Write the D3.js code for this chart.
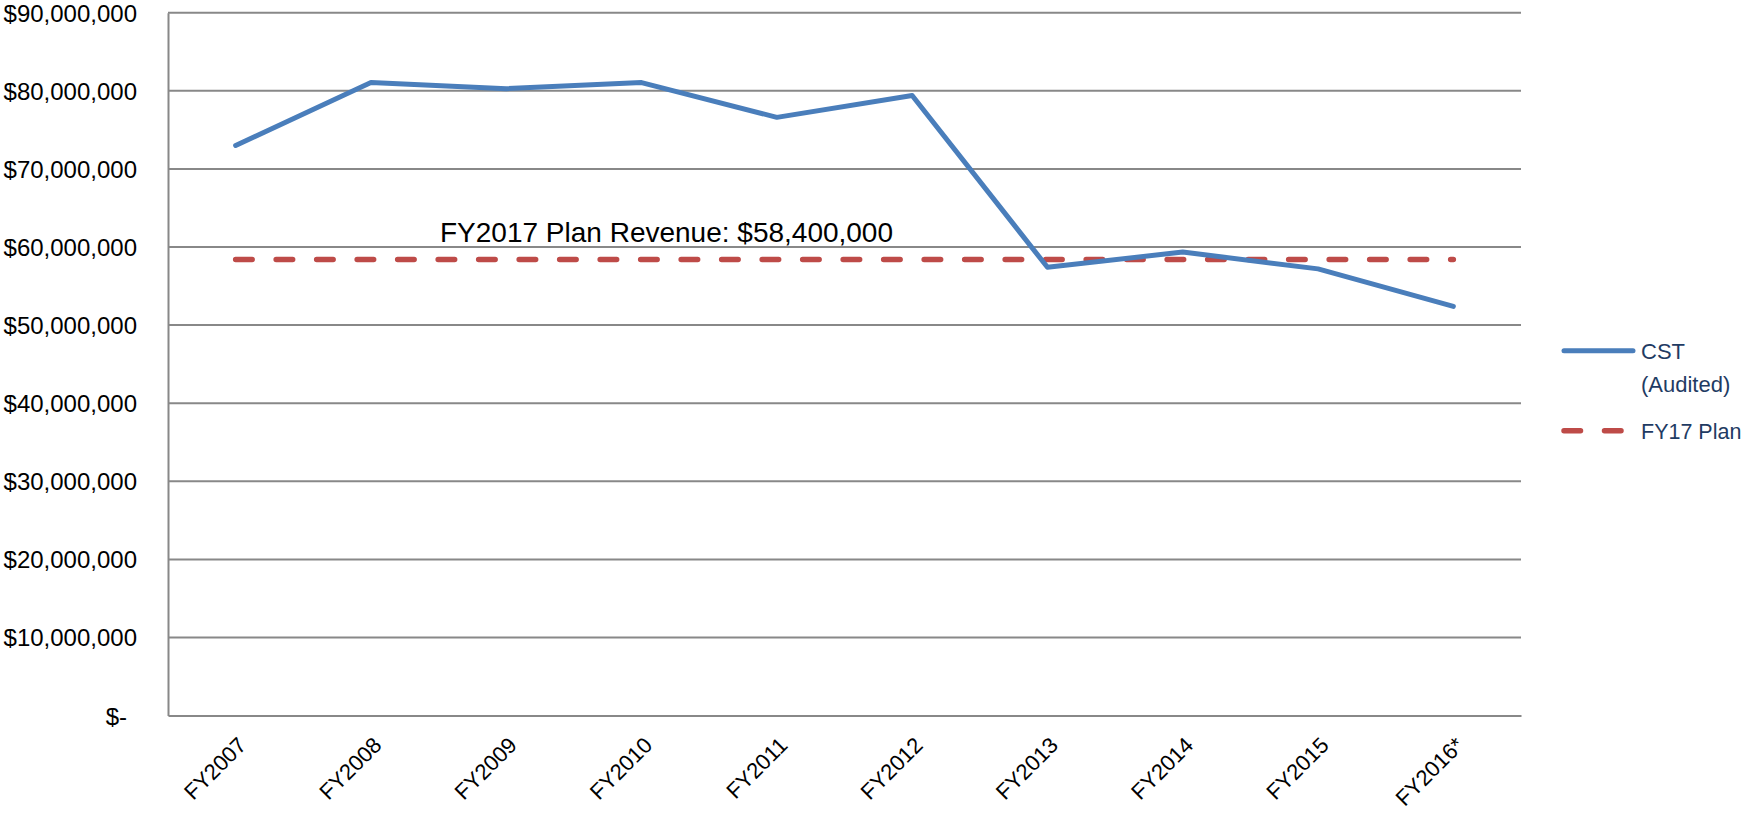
<!DOCTYPE html>
<html>
<head>
<meta charset="utf-8">
<script src="https://cdn.jsdelivr.net/npm/d3@7"></script>
<style>
  html, body { margin: 0; padding: 0; background: #fff; }
  svg { display: block; font-family: "Liberation Sans", Arial, sans-serif; }
</style>
</head>
<body>
<svg id="chart" width="1744" height="813"></svg>
<script>
// ---- data ----
const categories = ["FY2007","FY2008","FY2009","FY2010","FY2011","FY2012","FY2013","FY2014","FY2015","FY2016*"];
const cstAudited = [73000000, 81050000, 80270000, 81050000, 76600000, 79400000, 57400000, 59350000, 57200000, 52400000];
const planValue = 58400000;
const planSeries = categories.map(() => planValue);
const yTicks = [0, 10000000, 20000000, 30000000, 40000000, 50000000, 60000000, 70000000, 80000000, 90000000];
const seriesNames = ["CST", "(Audited)", "FY17 Plan"];
const annotationText = "FY2017 Plan Revenue: $58,400,000";

// ---- layout ----
const svg = d3.select("#chart");
const plotLeft = 168, plotRight = 1521, plotTop = 12.7, plotBottom = 715.6;
const blue = "#4A7EBB", red = "#BE4B48", grid = "#888888";

const x = d3.scaleBand().domain(categories).range([plotLeft, plotRight]).padding(0);
const cx = d => x(d) + x.bandwidth() / 2;
const y = d3.scaleLinear().domain([0, 90000000]).range([plotBottom, plotTop]);

// gridlines
svg.append("g")
  .selectAll("line").data(yTicks.filter(t => t > 0)).join("line")
  .attr("x1", plotLeft).attr("x2", plotRight)
  .attr("y1", d => y(d)).attr("y2", d => y(d))
  .attr("stroke", grid).attr("stroke-width", 2);

// y axis
const fmt = d => d === 0 ? "$-" : "$" + d3.format(",")(d);
const yAxis = svg.append("g")
  .attr("transform", `translate(${plotLeft},0)`)
  .call(d3.axisLeft(y).tickValues(yTicks).tickFormat(fmt).tickSize(0).tickPadding(31));
yAxis.select(".domain").attr("stroke", grid).attr("stroke-width", 2);
yAxis.selectAll("text")
  .attr("font-size", 24).attr("fill", "#000")
  .attr("font-family", "Liberation Sans, Arial, sans-serif")
  .attr("dx", d => d === 0 ? -10 : 0)
  .attr("dy", "0.35em");

// x axis
const xAxis = svg.append("g")
  .attr("transform", `translate(0,${plotBottom})`)
  .call(d3.axisBottom(x).tickSize(0).tickPadding(0));
xAxis.select(".domain").attr("stroke", grid).attr("stroke-width", 2);
xAxis.selectAll("text")
  .attr("font-size", 22).attr("fill", "#000")
  .attr("font-family", "Liberation Sans, Arial, sans-serif")
  .attr("text-anchor", "end")
  .attr("y", 0).attr("dy", 0)
  .attr("transform", "translate(12,31) rotate(-45)");

// plan line
const line = d3.line().x((d, i) => cx(categories[i])).y(d => y(d));
svg.append("path")
  .datum(planSeries)
  .attr("d", line)
  .attr("fill", "none").attr("stroke", red).attr("stroke-width", 5.5)
  .attr("stroke-linecap", "round")
  .attr("stroke-dasharray", "16.5,24");

// CST line
svg.append("path")
  .datum(cstAudited)
  .attr("d", line)
  .attr("fill", "none").attr("stroke", blue).attr("stroke-width", 5)
  .attr("stroke-linecap", "round").attr("stroke-linejoin", "round");

// annotation
svg.append("text")
  .attr("x", 440).attr("y", y(planValue) - 17.6)
  .attr("font-size", 28).attr("fill", "#000")
  .text(annotationText);

// legend
const lg = svg.append("g");
const legX1 = 1564, legX2 = 1633, txtX = 1641;
lg.append("line").attr("x1", legX1).attr("x2", legX2).attr("y1", 350.7).attr("y2", 350.7)
  .attr("stroke", blue).attr("stroke-width", 5).attr("stroke-linecap", "round");
lg.append("text").attr("x", txtX).attr("y", 358.5).attr("font-size", 22).attr("fill", "#1F3B63").text(seriesNames[0]);
lg.append("text").attr("x", txtX).attr("y", 391.5).attr("font-size", 22).attr("fill", "#1F3B63").text(seriesNames[1]);
lg.append("line").attr("x1", legX1).attr("x2", 1626).attr("y1", 430.7).attr("y2", 430.7)
  .attr("stroke", red).attr("stroke-width", 5.5).attr("stroke-linecap", "round")
  .attr("stroke-dasharray", "16.5,24");
lg.append("text").attr("x", txtX).attr("y", 438.5).attr("font-size", 21.5).attr("fill", "#1F3B63").text(seriesNames[2]);
</script>
</body>
</html>
